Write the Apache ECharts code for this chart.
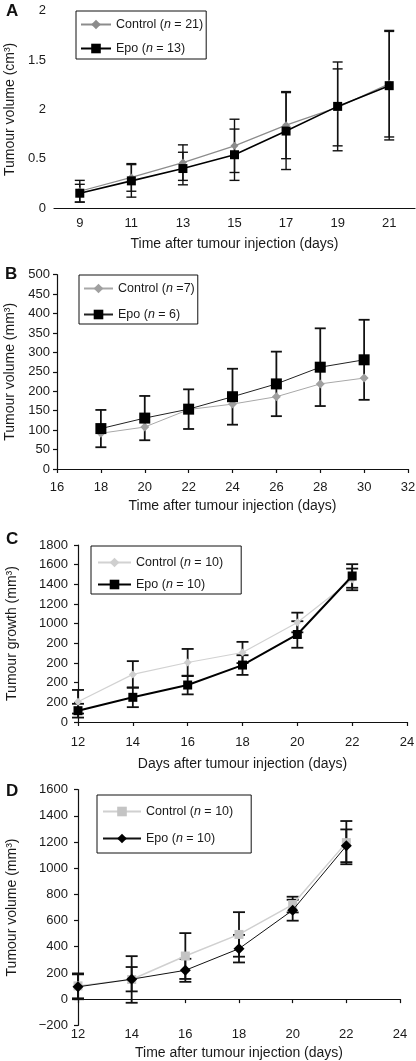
<!DOCTYPE html>
<html>
<head>
<meta charset="utf-8">
<script src="https://cdn.jsdelivr.net/npm/echarts@6/dist/echarts.min.js"></script>
<style>
html,body{margin:0;padding:0;background:#fff;}
#wrap{position:relative;width:416px;height:1061px;}
.pane{position:absolute;left:0;top:0;width:416px;height:1061px;}
</style>
</head>
<body>
<div id="wrap">
<div class="pane" id="cA"></div>
<div class="pane" id="cB"></div>
<div class="pane" id="cC"></div>
<div class="pane" id="cD"></div>
</div>
<script>
// ---------- DATA ----------
// Panel A
const daysA = [9, 11, 13, 15, 17, 19, 21];
const ctrlA = [0.17, 0.31, 0.46, 0.63, 0.84, 1.02, 1.26];
const ctrlAErr = [0.11, 0.14, 0.18, 0.27, 0.34, 0.39, 0.54];
const epoA = [0.15, 0.275, 0.40, 0.54, 0.78, 1.03, 1.24];
const epoAErr = [0.09, 0.165, 0.165, 0.26, 0.39, 0.45, 0.55];
const yTicksA = ['0', '0.5', '2', '1.5', '2'];
// Panel B
const daysB = [18, 20, 22, 24, 26, 28, 30];
const ctrlB = [92, 108, 153, 167, 186, 219, 234];
const epoB = [104, 131, 154, 186, 219, 262, 281];
const epoBErr = [48, 57, 51, 72, 83, 100, 103];
// Panel C
const daysC = [12, 14, 16, 18, 20, 22];
const ctrlC = [206, 484, 605, 707, 1012, 1450];
const ctrlCErr = [120, 135, 138, 108, 100, 110];
const epoC = [115, 251, 376, 579, 890, 1485];
const epoCErr = [70, 100, 95, 100, 135, 120];
const yTicksC = ['0', '200', '200', '200', '200', '1000', '1200', '1400', '1600', '1800'];
// Panel D
const daysD = [12, 14, 16, 18, 20, 22];
const ctrlD = [101, 150, 329, 494, 722, 1195];
const ctrlDErr = [95, 178, 175, 170, 60, 165];
const epoD = [94, 152, 220, 385, 679, 1171];
const epoDErr = [95, 93, 88, 105, 80, 125];
const yTicksD = ['\u2212200', '0', '200', '400', '600', '800', '1000', '1200', '1400', '1600'];

// ---------- HELPERS ----------
const FONT = '"Liberation Sans", Arial, Helvetica, sans-serif';
const TXT = '#1a1a1a';

function errData(xs, ys, errs) {
  return xs.map((x, i) => [x, ys[i] - errs[i], ys[i] + errs[i]]);
}
function errSeries(data, halfW, lw, xAxisIndex) {
  return {
    type: 'custom', xAxisIndex: xAxisIndex || 0, yAxisIndex: 0, z: 1,
    encode: { x: 0, y: [1, 2] }, silent: true,
    data: data,
    renderItem: function (params, api) {
      const x = api.value(0);
      const hi = api.coord([x, api.value(2)]);
      const lo = api.coord([x, api.value(1)]);
      const st = { stroke: '#111', lineWidth: lw };
      return {
        type: 'group', children: [
          { type: 'line', shape: { x1: hi[0], y1: hi[1], x2: lo[0], y2: lo[1] }, style: st },
          { type: 'line', shape: { x1: hi[0] - halfW, y1: hi[1], x2: hi[0] + halfW, y2: hi[1] }, style: st },
          { type: 'line', shape: { x1: lo[0] - halfW, y1: lo[1], x2: lo[0] + halfW, y2: lo[1] }, style: st }
        ]
      };
    }
  };
}
function legendFmt(name) { return name.replace(/\(n /, '({i|n} '); }
function legend(opts) {
  return Object.assign({
    orient: 'vertical', borderColor: '#111', borderWidth: 1, backgroundColor: '#fff',
    itemGap: 11, itemWidth: 30, itemHeight: 12,
    textStyle: { fontFamily: FONT, fontSize: 12.5, color: TXT,
      rich: { i: { fontFamily: FONT, fontSize: 12.5, color: TXT, fontStyle: 'italic' } } },
    formatter: legendFmt, selectedMode: false
  }, opts);
}
function axisBase() {
  return {
    axisLine: { lineStyle: { color: '#111', width: 1.2 } },
    axisTick: { length: 4, lineStyle: { color: '#111', width: 1.2 } },
    axisLabel: { fontFamily: FONT, fontSize: 13, color: TXT },
    splitLine: { show: false },
    nameTextStyle: { fontFamily: FONT, fontSize: 14, color: TXT }
  };
}
function merge(a, b) {
  const out = Object.assign({}, a);
  for (const k in b) {
    if (b[k] && typeof b[k] === 'object' && !Array.isArray(b[k]) && out[k] && typeof out[k] === 'object') out[k] = Object.assign({}, out[k], b[k]);
    else out[k] = b[k];
  }
  return out;
}
function letter(t, x, y) {
  return { type: 'text', left: x, top: y, style: { text: t, fontFamily: FONT, fontSize: 17, fontWeight: 'bold', fill: '#111' } };
}

// ---------- PANEL A ----------
const chA = echarts.init(document.getElementById('cA'));
chA.setOption({
  animation: false,
  graphic: [letter('A', 6, 3)],
  grid: { left: 54, right: 1, top: 10.7, bottom: 853, outerBoundsMode: 'none' },
  legend: legend({ left: 76, top: 11, padding: [7, 3, 4, 4], itemGap: 11, itemWidth: 30,
    data: ['Control (n = 21)', 'Epo (n = 13)'] }),
  xAxis: merge(axisBase(), {
    type: 'category', data: daysA.map(String), boundaryGap: true,
    axisTick: { alignWithLabel: false, interval: 0 },
    axisLabel: { margin: 9, interval: 0 },
    name: 'Time after tumour injection (days)', nameLocation: 'middle', nameGap: 29
  }),
  yAxis: merge(axisBase(), {
    type: 'value', min: 0, max: 2, interval: 0.5,
    axisLabel: { margin: 8, formatter: (v, i) => yTicksA[i] },
    name: 'Tumour volume (cm\u00B3)', nameLocation: 'middle', nameGap: 31
  }),
  series: [
    errSeries(errData(daysA.map((d, i) => i), ctrlA, ctrlAErr), 5, 1.4),
    errSeries(errData(daysA.map((d, i) => i), epoA, epoAErr), 5, 1.4),
    { name: 'Control (n = 21)', type: 'line', data: ctrlA, z: 3, symbol: 'diamond', symbolSize: 8,
      lineStyle: { color: '#8c8c8c', width: 1.2 }, itemStyle: { color: '#8c8c8c' } },
    { name: 'Epo (n = 13)', type: 'line', data: epoA, z: 4, symbol: 'rect', symbolSize: 9,
      lineStyle: { color: '#000', width: 1.6 }, itemStyle: { color: '#000' } }
  ]
});

// ---------- PANEL B ----------
const chB = echarts.init(document.getElementById('cB'));
chB.setOption({
  animation: false,
  graphic: [letter('B', 5, 266)],
  grid: { left: 57, right: 8, top: 274.7, bottom: 592, outerBoundsMode: 'none' },
  legend: legend({ left: 79, top: 275, padding: [7, 3, 3, 4], itemGap: 13, itemWidth: 29,
    data: ['Control (n =7)', 'Epo (n = 6)'] }),
  xAxis: merge(axisBase(), {
    type: 'value', min: 16, max: 32, interval: 2,
    axisLabel: { margin: 12 },
    name: 'Time after tumour injection (days)', nameLocation: 'middle', nameGap: 30
  }),
  yAxis: merge(axisBase(), {
    type: 'value', min: 0, max: 500, interval: 50,
    axisLabel: { margin: 7 },
    name: 'Tumour volume (mm\u00B3)', nameLocation: 'middle', nameGap: 36
  }),
  series: [
    errSeries(errData(daysB, epoB, epoBErr), 5.5, 1.8),
    { name: 'Control (n =7)', type: 'line', data: daysB.map((d, i) => [d, ctrlB[i]]), z: 3,
      symbol: 'diamond', symbolSize: 9,
      lineStyle: { color: '#a8a8a8', width: 1 }, itemStyle: { color: '#a0a0a0' } },
    { name: 'Epo (n = 6)', type: 'line', data: daysB.map((d, i) => [d, epoB[i]]), z: 4,
      symbol: 'rect', symbolSize: 11,
      lineStyle: { color: '#222', width: 1 }, itemStyle: { color: '#000' } }
  ]
});

// ---------- PANEL C ----------
const chC = echarts.init(document.getElementById('cC'));
chC.setOption({
  animation: false,
  graphic: [letter('C', 6, 531)],
  grid: { left: 78, right: 9, top: 545, bottom: 339, outerBoundsMode: 'none' },
  legend: legend({ left: 91, top: 546, padding: [10, 18, 3, 6], itemGap: 9, itemWidth: 33,
    data: ['Control (n = 10)', 'Epo (n = 10)'] }),
  xAxis: merge(axisBase(), {
    type: 'value', min: 12, max: 24, interval: 2,
    axisLabel: { margin: 14 },
    name: 'Days after tumour injection (days)', nameLocation: 'middle', nameGap: 35
  }),
  yAxis: merge(axisBase(), {
    type: 'value', min: 0, max: 1800, interval: 200,
    axisLabel: { margin: 10, formatter: (v, i) => yTicksC[i] },
    name: 'Tumour growth (mm\u00B3)', nameLocation: 'middle', nameGap: 59
  }),
  series: [
    errSeries(errData(daysC, ctrlC, ctrlCErr), 6, 1.8),
    errSeries(errData(daysC, epoC, epoCErr), 6, 1.8),
    { name: 'Control (n = 10)', type: 'line', data: daysC.map((d, i) => [d, ctrlC[i]]), z: 3,
      symbol: 'diamond', symbolSize: 8,
      lineStyle: { color: '#d2d2d2', width: 1.2 }, itemStyle: { color: '#cfcfcf' } },
    { name: 'Epo (n = 10)', type: 'line', data: daysC.map((d, i) => [d, epoC[i]]), z: 4,
      symbol: 'rect', symbolSize: 9,
      lineStyle: { color: '#000', width: 2 }, itemStyle: { color: '#000' } }
  ]
});

// ---------- PANEL D ----------
const chD = echarts.init(document.getElementById('cD'));
const baseD = axisBase();
chD.setOption({
  animation: false,
  graphic: [letter('D', 6, 783)],
  grid: { left: 78, right: 16, top: 789.6, bottom: 35.7, outerBoundsMode: 'none' },
  legend: legend({ left: 97, top: 795, padding: [10, 18, 8, 5], itemGap: 14, itemWidth: 38,
    data: ['Control (n = 10)', 'Epo (n = 10)'] }),
  xAxis: [
    merge(baseD, {
      type: 'value', min: 12, max: 24, interval: 2, position: 'bottom',
      axisLine: { onZero: true }, axisLabel: { show: false }
    }),
    merge(baseD, {
      type: 'value', min: 12, max: 24, interval: 2, position: 'bottom',
      axisLine: { show: false, onZero: false }, axisTick: { show: false },
      axisLabel: { margin: 3 },
      name: 'Time after tumour injection (days)', nameLocation: 'middle', nameGap: 21
    })
  ],
  yAxis: merge(baseD, {
    type: 'value', min: -200, max: 1600, interval: 200,
    axisLabel: { margin: 10, formatter: (v, i) => yTicksD[i] },
    name: 'Tumour volume (mm\u00B3)', nameLocation: 'middle', nameGap: 59
  }),
  series: [
    errSeries(errData(daysD, ctrlD, ctrlDErr), 6, 1.8),
    errSeries(errData(daysD, epoD, epoDErr), 6, 1.8),
    { name: 'Control (n = 10)', type: 'line', data: daysD.map((d, i) => [d, ctrlD[i]]), z: 3,
      symbol: 'rect', symbolSize: 9,
      lineStyle: { color: '#d0d0d0', width: 1.5 }, itemStyle: { color: '#c4c4c4' } },
    { name: 'Epo (n = 10)', type: 'line', data: daysD.map((d, i) => [d, epoD[i]]), z: 4,
      symbol: 'diamond', symbolSize: 11,
      lineStyle: { color: '#111', width: 1 }, itemStyle: { color: '#000' } }
  ]
});
</script>
</body>
</html>
